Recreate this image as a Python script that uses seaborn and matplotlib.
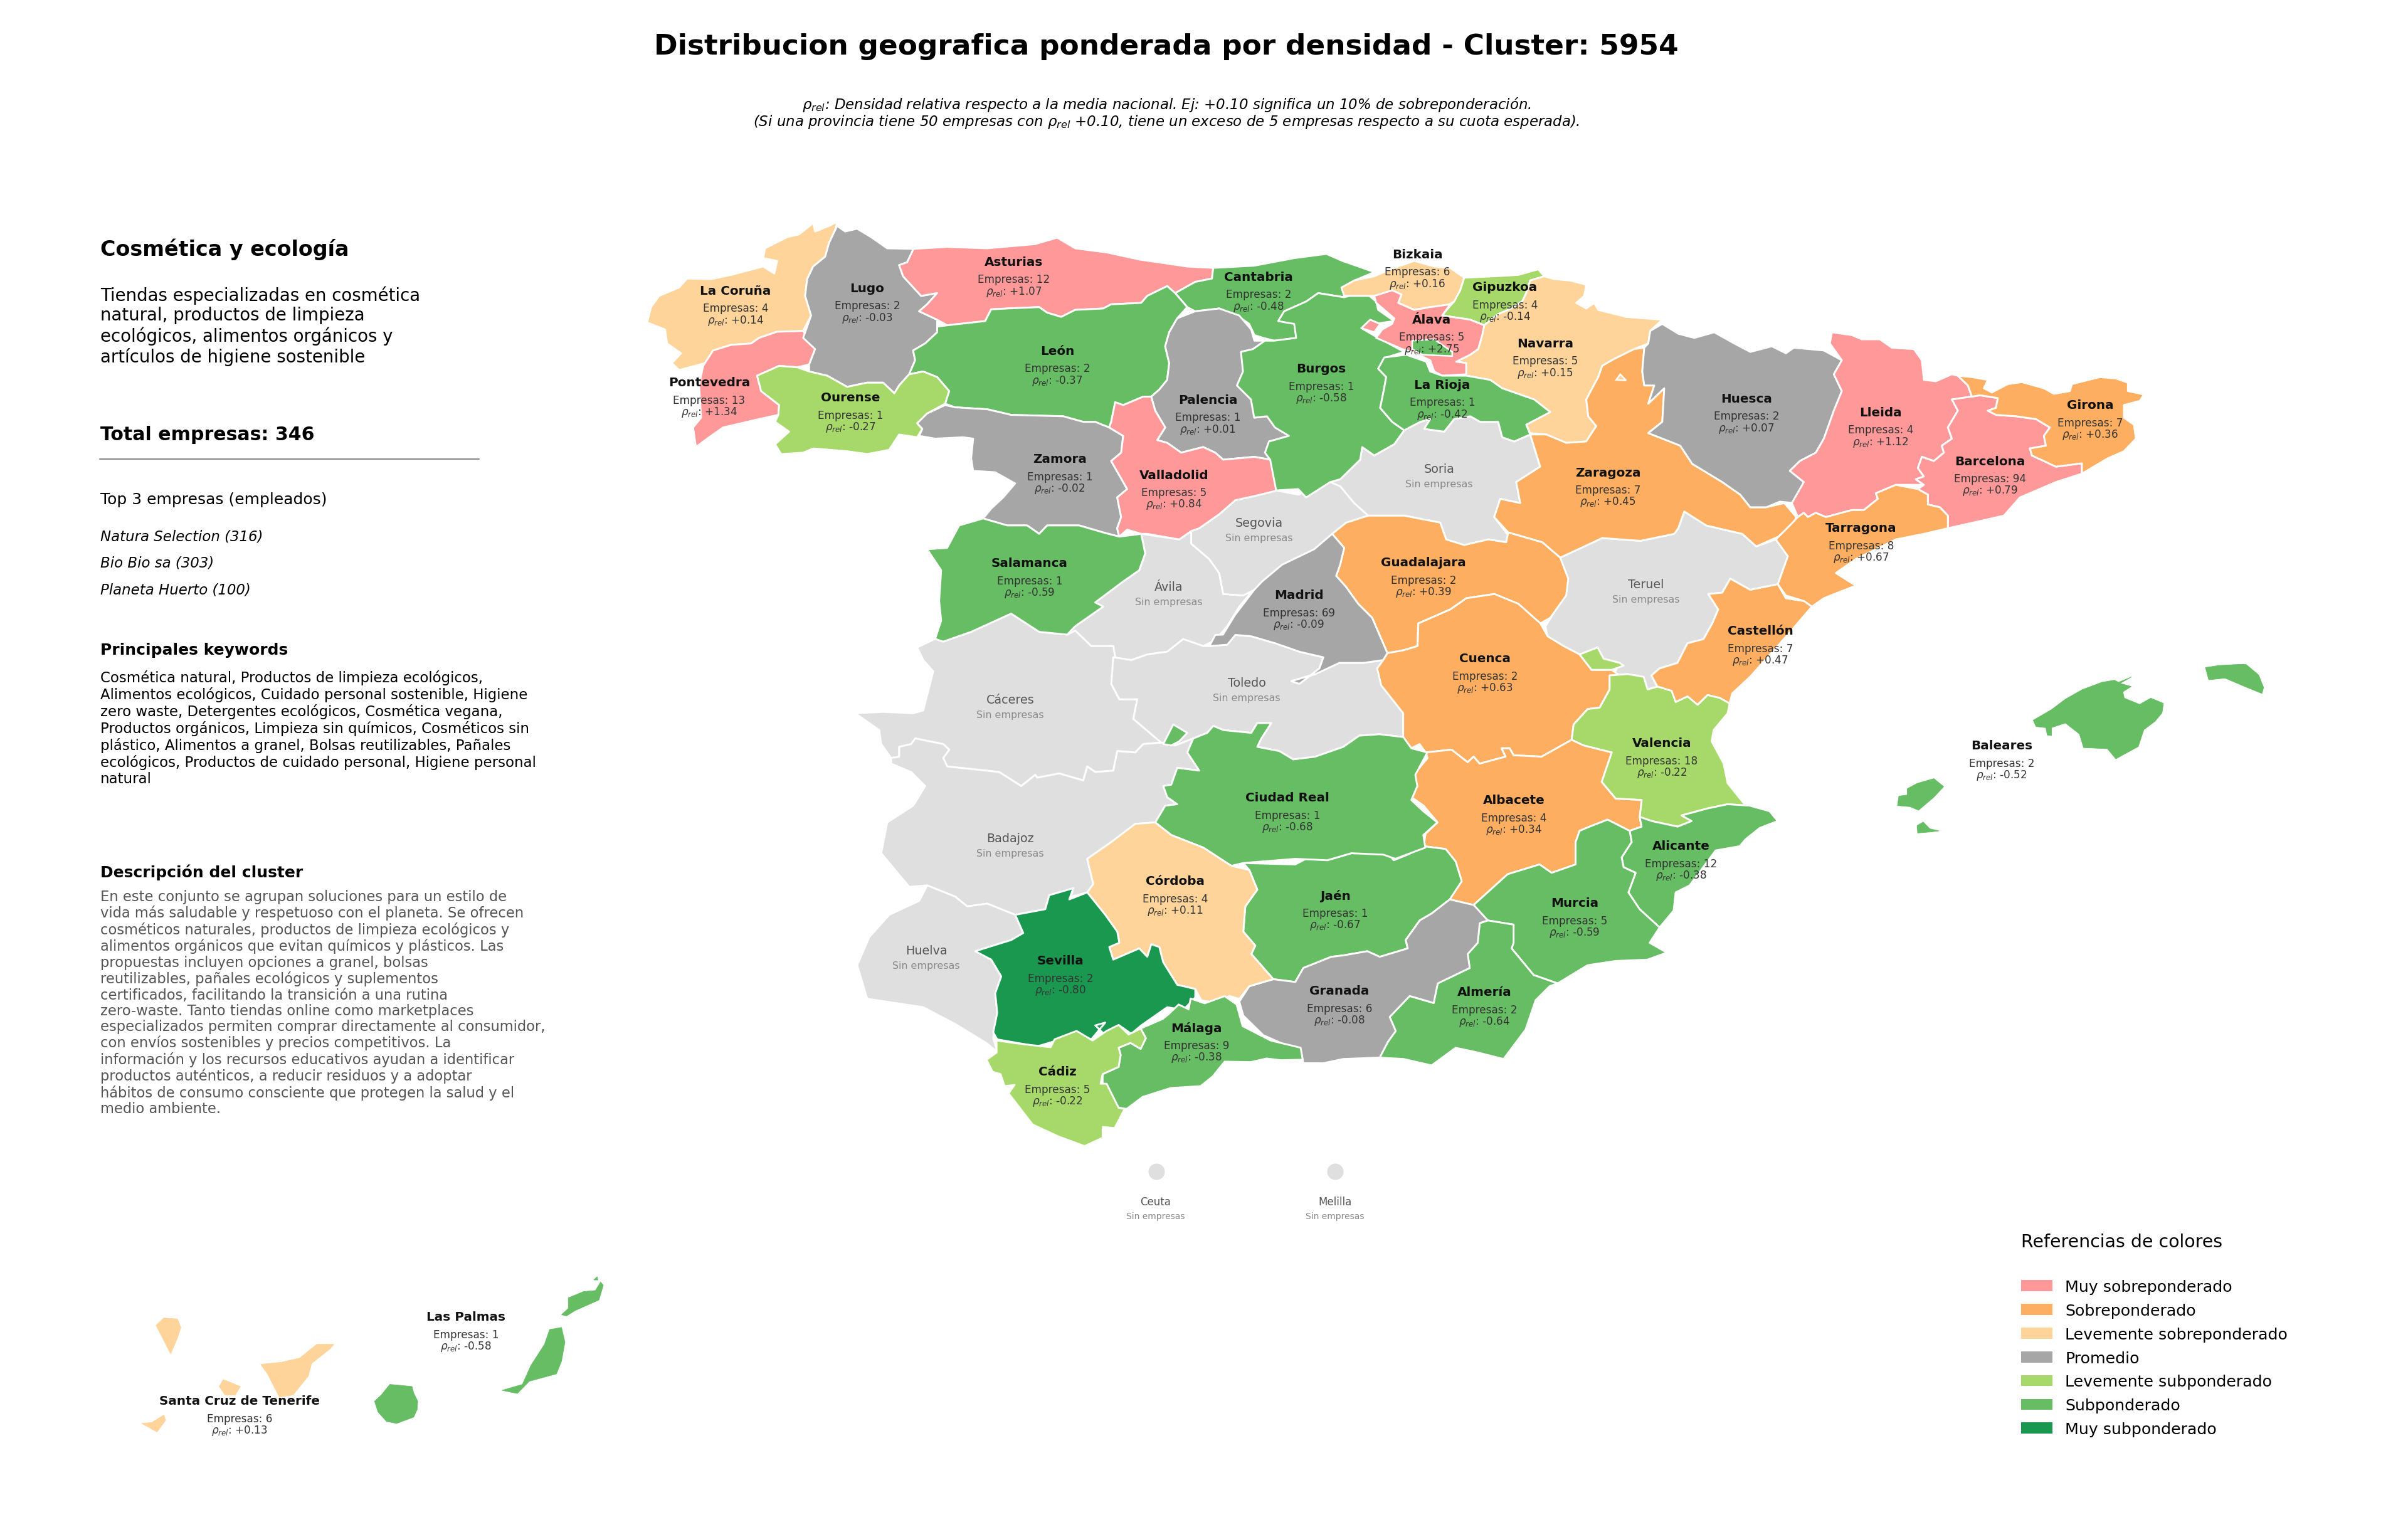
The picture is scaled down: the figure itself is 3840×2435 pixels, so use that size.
import matplotlib
matplotlib.use("Agg")
import matplotlib.pyplot as plt
from matplotlib.patches import Patch
import numpy as np
import pandas as pd
import seaborn as sns

# ---------------- values ----------------
PROVINCES = ["La Coruña","Lugo","Asturias","Cantabria","Bizkaia","Gipuzkoa","Álava","Navarra","León","Pontevedra","Ourense","Palencia","Burgos","La Rioja","Zamora","Valladolid","Salamanca","Zaragoza","Huesca","Lleida","Girona","Barcelona","Tarragona","Castellón","Guadalajara","Madrid","Cuenca","Valencia","Albacete","Alicante","Murcia","Almería","Granada","Jaén","Córdoba","Ciudad Real","Sevilla","Málaga","Cádiz","Baleares","Las Palmas","Santa Cruz de Tenerife"]
EMPRESAS = [4,2,12,2,6,4,5,5,2,13,1,1,1,1,1,5,1,7,2,4,7,94,8,7,2,69,2,18,4,12,5,2,6,1,4,1,2,9,5,2,1,6]
RHO = [0.14,-0.03,1.07,-0.48,0.16,-0.14,2.75,0.15,-0.37,1.34,-0.27,0.01,-0.58,-0.42,-0.02,0.84,-0.59,0.45,0.07,1.12,0.36,0.79,0.67,0.47,0.39,-0.09,0.63,-0.22,0.34,-0.38,-0.59,-0.64,-0.08,-0.67,0.11,-0.68,-0.80,-0.38,-0.22,-0.52,-0.58,0.13]
EMPTY_PROVINCES = ["Ávila","Segovia","Soria","Teruel","Cáceres","Toledo","Badajoz","Huelva"]
EMPTY_CITIES = ["Ceuta","Melilla"]

CATEGORIES = ["Muy sobreponderado","Sobreponderado","Levemente sobreponderado","Promedio","Levemente subponderado","Subponderado","Muy subponderado"]
CAT_COLORS = ["#FF9999","#FDAE61","#FED49A","#A6A6A6","#A6D96A","#66BD63","#1A9850"]
NO_DATA = "#DFDFDF"

TITLE = "Distribucion geografica ponderada por densidad - Cluster: 5954"
NOTE_1 = r"$\rho_{rel}$: Densidad relativa respecto a la media nacional. Ej: +0.10 significa un 10% de sobreponderación."
NOTE_2 = r"(Si una provincia tiene 50 empresas con $\rho_{rel}$ +0.10, tiene un exceso de 5 empresas respecto a su cuota esperada)."
CLUSTER = "Cosmética y ecología"
SUMMARY = "Tiendas especializadas en cosmética\nnatural, productos de limpieza\necológicos, alimentos orgánicos y\nartículos de higiene sostenible"
TOTAL = 346
TOP3 = ["Natura Selection (316)","Bio Bio sa (303)","Planeta Huerto (100)"]
KEYWORDS = "Cosmética natural, Productos de limpieza ecológicos,\nAlimentos ecológicos, Cuidado personal sostenible, Higiene\nzero waste, Detergentes ecológicos, Cosmética vegana,\nProductos orgánicos, Limpieza sin químicos, Cosméticos sin\nplástico, Alimentos a granel, Bolsas reutilizables, Pañales\necológicos, Productos de cuidado personal, Higiene personal\nnatural"
DESCRIPTION = "En este conjunto se agrupan soluciones para un estilo de\nvida más saludable y respetuoso con el planeta. Se ofrecen\ncosméticos naturales, productos de limpieza ecológicos y\nalimentos orgánicos que evitan químicos y plásticos. Las\npropuestas incluyen opciones a granel, bolsas\nreutilizables, pañales ecológicos y suplementos\ncertificados, facilitando la transición a una rutina\nzero-waste. Tanto tiendas online como marketplaces\nespecializados permiten comprar directamente al consumidor,\ncon envíos sostenibles y precios competitivos. La\ninformación y los recursos educativos ayudan a identificar\nproductos auténticos, a reducir residuos y a adoptar\nhábitos de consumo consciente que protegen la salud y el\nmedio ambiente."

# ---------------- map geometry: outlines in local map frames ----------------
# frame name -> (x origin, y origin, x scale, y scale)
FRAMES = {"n":(1000,330,.638,.4464),"ne":(2000,330,.638,.4464),"e":(2800,330,.638,.4464),
          "s":(1300,1000,.638,.4464),"se":(2200,1000,.638,.4464),"sw":(1350,1400,.638,.3827),
          "bal":(2950,1000,.4464,.336),"can":(180,2000,.542,.3365)}

SHAPES = {
"Ávila":[("n",[(1285,1170),(1380,1190),(1410,1160),(1410,1205),(1455,1260),(1480,1310),(1490,1385),(1540,1390),(1568,1365),(1530,1430),(1500,1500),(1470,1550),(1440,1571),(1390,1546),(1350,1591),(1300,1601),(1260,1621),(1215,1611),(1215,1571),(1160,1571),(1120,1516),(1100,1530),(1120,1500),(1150,1470),(1190,1430),(1170,1415),(1240,1340),(1280,1300),(1295,1240)])],
"Segovia":[("n",[(1410,1160),(1430,1150),(1480,1100),(1520,1050),(1568,1035),(1623,1015),(1678,1030),(1758,980),(1783,1000),(1818,1060),(1853,1105),(1798,1130),(1763,1170),(1718,1225),(1638,1280),(1588,1340),(1568,1370),(1540,1390),(1490,1385),(1480,1310),(1455,1260),(1410,1205)])],
"Soria":[("ne",[(375,800),(415,770),(440,760),(425,795),(475,805),(500,760),(540,750),(565,770),(610,770),(620,825),(650,840),(690,815),(715,930),(655,985),(665,1060),(615,1045),(600,1110),(635,1175),(630,1200),(585,1190),(525,1210),(480,1190),(465,1130),(375,1105),(285,1105),(250,1060),(215,1000),(190,985),(215,975),(265,905),(270,860),(300,890),(350,850)])],
"Teruel":[("ne",[(765,1255),(810,1225),(870,1185),(965,1195),(1050,1170),(1060,1150),(1075,1090),(1130,1140),(1220,1170),(1255,1215),(1304,1190),(1334,1250),(1324,1290),(1309,1350),(1240,1370),(1190,1330),(1170,1380),(1135,1385),(1160,1440),(1145,1490),(1123,1546),(1083,1561),(1058,1631),(1013,1651),(993,1676),(1008,1716),(983,1726),(973,1681),(933,1671),(898,1676),(913,1631),(873,1616),(858,1576),(813,1601),(773,1571),(733,1536),(728,1501),(780,1380),(760,1310)])],
"Cáceres":[("s",[(255,75),(300,44),(320,54),(390,19),(490,-46),(560,19),(630,29),(650,15),(690,70),(745,70),(750,110),(740,205),(760,260),(805,260),(795,330),(865,415),(820,420),(800,450),(755,445),(745,515),(700,520),(680,500),(670,550),(610,525),(555,540),(550,530),(515,570),(460,520),(395,510),(330,500),(320,470),(335,440),(320,420),(250,400),(240,420),(210,430),(210,465),(190,470),(165,420),(160,370),(100,310),(170,305),(245,310),(270,300),(295,160),(270,120)])],
"Toledo":[("s",[(745,110),(790,120),(830,100),(880,90),(920,45),(970,70),(985,70),(1030,65),(1050,30),(1090,35),(1150,60),(1210,90),(1270,110),(1260,150),(1210,205),(1190,195),(1250,170),(1310,130),(1370,130),(1420,120),(1405,150),(1415,210),(1470,310),(1470,395),(1410,385),(1360,390),(1320,430),(1250,465),(1195,475),(1160,445),(1105,430),(1115,400),(1140,345),(1105,345),(1090,380),(1020,370),(995,355),(980,380),(945,400),(900,425),(865,415),(795,330),(805,260),(760,260),(740,205)])],
"Badajoz":[("s",[(190,470),(210,465),(210,430),(240,420),(250,400),(320,420),(335,440),(320,470),(330,500),(395,510),(460,520),(515,570),(550,530),(555,540),(610,525),(670,550),(680,500),(700,520),(745,515),(755,445),(800,450),(820,420),(865,415),(900,425),(945,400),(930,450),(960,515),(905,505),(890,565),(870,570),(880,610),(905,635),(875,640),(850,700),(800,705),(740,770),(680,830),(695,920),(680,950),(640,965),(645,935),(585,960),(575,1010),(500,1030),(430,990),(380,1000),(350,965),(280,925),(235,930),(165,810),(180,700),(245,640),(275,570),(240,520),(190,490)])],
"Huelva":[("s",[(280,925),(350,965),(380,1000),(430,990),(500,1030),(520,1095),(490,1120),(400,1160),(440,1190),(465,1250),(450,1310),(455,1380),(445,1470),(455,1520),(430,1490),(350,1420),(270,1360),(130,1330),(105,1210),(135,1110),(185,1030),(260,980)])],
"La Coruña":[("n",[(525,55),(520,85),(505,130),(495,180),(465,215),(450,260),(445,320),(460,390),(440,445),(400,450),(375,448),(330,470),(310,490),(260,495),(215,515),(195,560),(130,585),(112,560),(135,525),(100,490),(95,440),(50,415),(60,360),(80,320),(130,290),(150,258),(210,260),(260,245),(300,230),(340,215),(368,240),(375,195),(340,185),(345,150),(400,110),(430,100),(465,60),(470,90),(505,70)])],
"Pontevedra":[("n",[(440,445),(470,510),(455,565),(425,575),(380,570),(325,605),(335,660),(380,710),(378,745),(330,760),(240,790),(205,825),(172,860),(165,790),(185,755),(180,640),(190,570),(215,515),(260,495),(310,490),(330,470),(375,448)])],
"Lugo":[("n",[(525,70),(545,90),(575,80),(610,110),(650,150),(716,152),(700,200),(680,210),(690,250),(735,320),(775,310),(750,350),(730,375),(775,405),(775,450),(745,490),(715,515),(720,550),(705,600),(680,640),(668,668),(640,630),(600,630),(550,645),(500,605),(455,590),(455,565),(470,510),(440,470),(460,390),(445,320),(450,260),(465,215),(495,180),(505,130),(520,85)])],
"Asturias":[("n",[(716,152),(800,145),(900,150),(1020,135),(1075,112),(1120,150),(1200,165),(1280,190),(1400,215),(1465,220),(1462,258),(1420,270),(1370,310),(1350,285),(1300,320),(1285,345),(1210,350),(1190,365),(1120,370),(1085,395),(1050,380),(1030,360),(950,365),(910,368),(895,410),(800,425),(775,405),(730,375),(750,350),(775,310),(735,320),(690,250),(680,210),(700,200)])],
"Cantabria":[("n",[(1465,220),(1568,212),(1668,185),(1748,170),(1788,195),(1868,235),(1818,265),(1788,290),(1793,325),(1728,310),(1698,340),(1643,375),(1628,410),(1668,415),(1673,470),(1618,480),(1590,470),(1568,460),(1555,420),(1530,395),(1480,365),(1420,375),(1400,360),(1370,310),(1420,270),(1462,258)])],
"León":[("n",[(895,410),(910,368),(950,365),(1030,360),(1050,380),(1085,395),(1120,370),(1190,365),(1210,350),(1285,345),(1300,320),(1350,285),(1370,310),(1400,360),(1375,400),(1355,450),(1345,500),(1355,560),(1350,620),(1330,655),(1310,680),(1290,680),(1240,710),(1220,700),(1210,770),(1205,790),(1170,770),(1140,770),(1090,750),(960,745),(900,725),(820,718),(795,705),(805,660),(775,610),(740,590),(705,600),(720,550),(715,515),(745,490),(775,450),(775,430),(800,425)])],
"Ourense":[("n",[(325,605),(380,570),(425,575),(455,590),(500,605),(550,645),(600,630),(640,630),(668,668),(680,640),(705,600),(740,590),(775,610),(805,660),(795,705),(750,740),(725,775),(738,795),(725,825),(680,815),(655,870),(600,885),(550,875),(465,865),(440,880),(385,885),(370,850),(405,805),(370,770),(378,745),(380,710),(335,660)])],
"Zamora":[("n",[(795,710),(820,718),(900,725),(960,745),(1090,750),(1140,770),(1170,770),(1205,790),(1240,820),(1235,880),(1210,910),(1250,1010),(1225,1040),(1235,1110),(1225,1150),(1230,1180),(1190,1165),(1130,1140),(1050,1140),(1030,1170),(1000,1140),(950,1140),(890,1115),(910,1080),(940,1040),(970,990),(920,950),(865,945),(860,900),(865,830),(840,825),(770,830),(730,820),(738,795),(725,775),(750,740)])],
"Palencia":[("n",[(1420,375),(1480,365),(1530,390),(1560,440),(1568,480),(1595,480),(1565,510),(1535,520),(1540,590),(1525,640),(1560,690),(1568,755),(1600,750),(1620,790),(1655,820),(1605,840),(1595,880),(1608,905),(1568,895),(1490,905),(1470,880),(1440,860),(1385,880),(1350,845),(1325,835),(1345,790),(1320,730),(1310,680),(1330,655),(1350,620),(1355,560),(1345,500),(1355,450),(1375,400)])],
"Valladolid":[("n",[(1310,680),(1320,730),(1345,790),(1325,835),(1350,845),(1385,880),(1440,860),(1470,880),(1490,905),(1568,895),(1608,905),(1625,1015),(1568,1035),(1520,1050),(1480,1100),(1430,1150),(1410,1160),(1380,1190),(1300,1170),(1285,1170),(1250,1155),(1230,1180),(1225,1150),(1235,1110),(1225,1040),(1250,1010),(1210,910),(1235,880),(1240,820),(1205,790),(1210,770),(1220,700),(1240,710),(1290,680)])],
"Salamanca":[("n",[(890,1115),(950,1140),(1000,1140),(1030,1170),(1050,1140),(1130,1140),(1190,1165),(1230,1180),(1285,1170),(1295,1240),(1280,1300),(1240,1340),(1170,1415),(1190,1430),(1150,1470),(1120,1500),(1100,1530),(1030,1520),(960,1455),(860,1520),(790,1555),(770,1545),(785,1480),(780,1410),(785,1300),(750,1225),(800,1220),(830,1140)])],
"Burgos":[("ne",[(225,325),(275,305),(305,340),(310,370),(350,410),(300,420),(268,435),(310,470),(375,520),(330,540),(310,580),(330,610),(325,650),(315,720),(345,770),(375,800),(350,850),(300,890),(270,860),(265,905),(215,975),(190,985),(130,1040),(110,1010),(55,1015),(40,905),(27,880),(37,840),(87,820),(52,790),(32,750),(0,755),(-8,690),(-43,640),(-28,590),(-33,520),(-3,510),(27,480),(50,480),(105,470),(100,420),(60,410),(75,375),(130,340),(160,310)])],
"Bizkaia":[("ne",[(218,290),(250,265),(300,250),(340,225),(400,195),(450,215),(490,220),(525,255),(515,300),(500,340),(470,365),(440,360),(400,370),(360,345),(368,315),(345,300),(310,320),(300,320),(225,320)])],
"Gipuzkoa":[("ne",[(525,255),(600,250),(660,245),(710,225),(725,250),(690,265),(680,310),(670,340),(635,370),(610,385),(575,425),(540,405),(470,390),(490,355),(500,340),(515,300)])],
"Navarra":[("ne",[(725,250),(750,260),(790,265),(830,280),(825,320),(805,345),(830,365),(850,345),(860,370),(930,395),(1020,405),(990,445),(985,490),(950,510),(900,545),(870,570),(860,610),(830,690),(835,750),(855,785),(830,840),(780,845),(730,815),(690,810),(680,780),(720,750),(740,735),(700,690),(620,650),(590,620),(530,605),(530,560),(505,555),(540,530),(560,510),(570,460),(575,425),(610,385),(635,370),(670,340),(680,310),(690,265)])],
"Álava":[("ne",[(300,320),(345,300),(368,315),(360,345),(400,370),(440,360),(490,350),(470,390),(540,405),(575,425),(570,460),(560,510),(540,530),(505,555),(530,560),(530,600),(470,605),(450,590),(440,550),(395,520),(370,510),(305,470),(320,440),(345,420),(350,400),(305,345)]),("ne",[(268,435),(290,405),(315,420),(300,450)])],
"La Rioja":[("ne",[(325,540),(380,530),(430,555),(440,590),(470,605),(530,605),(590,620),(620,650),(700,690),(740,735),(720,750),(680,780),(690,815),(650,840),(620,825),(610,770),(565,770),(540,750),(500,760),(475,805),(425,795),(440,760),(415,770),(375,800),(345,770),(315,720),(325,650),(330,610),(310,580)])],
"Zaragoza":[("ne",[(975,505),(970,590),(975,640),(1000,640),(985,705),(1025,650),(1020,770),(985,810),(1065,855),(1095,920),(1170,985),(1215,1030),(1240,1075),(1280,1075),(1325,1060),(1355,1110),(1350,1130),(1310,1180),(1255,1215),(1220,1170),(1130,1140),(1075,1090),(1060,1150),(1050,1170),(965,1195),(870,1185),(810,1225),(765,1255),(720,1200),(635,1165),(600,1110),(615,1045),(665,1060),(655,985),(715,930),(690,815),(730,815),(780,845),(830,840),(855,785),(835,750),(830,690),(860,610),(870,570),(900,545),(950,510)])],
"Huesca":[("ne",[(1020,420),(1060,455),(1100,470),(1150,450),(1200,490),(1240,520),(1254,515),(1294,500),(1329,525),(1349,505),(1424,515),(1469,550),(1449,600),(1469,660),(1449,730),(1424,830),(1404,880),(1364,910),(1339,945),(1374,985),(1349,1060),(1314,1055),(1280,1075),(1240,1075),(1215,1030),(1170,985),(1095,920),(1065,855),(985,810),(1020,770),(1025,650),(985,705),(1000,640),(975,640),(970,590),(975,505),(985,490),(990,445)])],
"Lleida":[("e",[(190,450),(240,460),(265,475),(310,475),(340,505),(395,510),(415,550),(420,620),(450,625),(490,600),(505,605),(530,640),(540,680),(490,690),(505,730),(480,790),(490,830),(465,855),(470,880),(445,910),(415,895),(405,935),(420,965),(400,975),(420,995),(350,995),(300,1025),(305,1045),(270,1085),(240,1085),(175,1110),(150,1095),(130,1110),(120,1095),(105,1110),(90,1060),(120,985),(85,945),(110,910),(150,880),(170,830),(195,730),(215,660),(195,600),(215,550),(185,490)])],
"Barcelona":[("e",[(490,690),(560,675),(605,685),(600,720),(580,730),(600,745),(650,750),(700,760),(735,790),(720,820),(725,855),(685,865),(690,890),(750,930),(815,918),(815,955),(750,985),(660,1040),(620,1105),(480,1150),(480,1105),(460,1075),(430,1065),(430,1030),(405,1010),(420,995),(400,975),(420,965),(405,935),(415,895),(445,910),(470,880),(465,855),(490,830),(480,790),(505,730)])],
"Girona":[("e",[(505,605),(540,610),(580,620),(570,650),(590,665),(630,635),(665,628),(720,650),(745,670),(785,660),(790,635),(860,610),(900,615),(930,630),(930,660),(970,672),(960,695),(920,710),(920,755),(945,780),(950,830),(920,875),(880,900),(815,955),(815,918),(750,930),(690,890),(685,865),(725,855),(720,820),(735,790),(700,760),(650,750),(600,745),(580,730),(600,720),(605,685),(560,675),(540,680),(530,640)])],
"Tarragona":[("e",[(105,1110),(120,1095),(130,1110),(150,1095),(175,1110),(240,1085),(270,1085),(305,1045),(300,1025),(350,995),(405,1010),(430,1030),(430,1065),(460,1075),(480,1105),(480,1150),(420,1170),(350,1190),(250,1260),(200,1310),(250,1355),(205,1380),(170,1400),(140,1430),(120,1410),(75,1390),(55,1350),(70,1290),(80,1250),(50,1190),(85,1140)])],
"Castellón":[("ne",[(1190,1330),(1240,1370),(1309,1350),(1329,1400),(1374,1410),(1394,1430),(1340,1520),(1290,1600),(1240,1680),(1195,1740),(1188,1776),(1163,1756),(1133,1746),(1108,1781),(1083,1751),(1053,1771),(1043,1731),(1008,1716),(993,1676),(1013,1651),(1058,1631),(1083,1561),(1123,1546),(1145,1490),(1160,1440),(1135,1385),(1170,1380)])],
"Guadalajara":[("ne",[(195,1170),(230,1130),(285,1105),(375,1105),(465,1130),(480,1190),(525,1210),(585,1190),(630,1200),(635,1165),(720,1200),(765,1255),(785,1330),(780,1390),(740,1470),(715,1490),(660,1420),(600,1385),(530,1400),(490,1440),(410,1490),(408,1571),(373,1586),(333,1596),(313,1530),(295,1470),(260,1420),(230,1360),(205,1320),(215,1280),(225,1220)])],
"Madrid":[("ne",[(195,1170),(225,1220),(215,1280),(205,1320),(230,1360),(260,1420),(295,1470),(313,1530),(333,1596),(323,1621),(273,1631),(213,1631),(153,1671),(93,1696),(113,1706),(163,1651),(173,1611),(113,1591),(53,1561),(-7,1536),(-47,1531),(-67,1566),(-112,1571),(-97,1531),(-78,1530),(-48,1460),(0,1370),(20,1340),(70,1280),(150,1225)])],
"Cuenca":[("se",[(97,-11),(177,-61),(217,-101),(287,-116),(347,-81),(402,-11),(420,35),(460,70),(500,100),(530,155),(580,155),(600,175),(575,175),(575,225),(550,290),(520,295),(485,350),(480,405),(405,465),(335,460),(325,435),(305,435),(315,465),(250,490),(235,465),(220,485),(180,440),(115,450),(100,420),(79,435),(59,395),(59,310),(4,210),(-6,150),(9,120),(20,95),(60,85),(95,70)])],
"Valencia":[("se",[(575,175),(620,170),(660,180),(670,225),(695,215),(730,230),(740,270),(770,250),(795,280),(820,245),(850,255),(875,275),(870,310),(835,370),(830,410),(860,490),(870,560),(915,640),(870,635),(820,650),(755,675),(780,695),(745,715),(680,695),(650,680),(655,620),(590,615),(555,555),(580,450),(510,425),(480,405),(485,350),(520,295),(550,290),(575,225)]),("se",[(500,100),(545,75),(560,115),(600,130),(610,140),(580,155),(530,155)])],
"Albacete":[("se",[(115,450),(180,440),(220,485),(235,465),(250,490),(315,465),(305,435),(325,435),(335,460),(405,465),(480,405),(510,425),(580,450),(555,555),(590,615),(655,620),(650,680),(655,715),(625,730),(570,690),(525,715),(500,730),(490,770),(490,850),(430,880),(400,850),(320,885),(235,995),(175,975),(205,910),(190,840),(165,795),(110,785),(115,740),(145,700),(110,640),(75,605),(95,570),(85,530),(120,470)])],
"Alicante":[("se",[(650,680),(680,695),(745,715),(780,695),(755,675),(820,650),(870,635),(925,640),(975,660),(995,695),(950,720),(915,760),(900,785),(840,800),(775,925),(740,950),(735,1015),(700,1075),(650,1010),(622,950),(640,880),(610,860),(605,825),(630,770),(625,730),(655,715)])],
"Murcia":[("se",[(235,995),(320,885),(400,850),(430,880),(490,850),(490,770),(500,730),(525,715),(570,690),(625,730),(630,770),(605,825),(610,860),(640,880),(622,950),(650,1010),(700,1075),(675,1130),(718,1165),(670,1190),(590,1195),(520,1210),(445,1275),(385,1245),(330,1150),(335,1065),(270,1050)])],
"Almería":[("se",[(270,1050),(335,1065),(335,1130),(330,1150),(385,1245),(445,1275),(425,1285),(390,1335),(365,1440),(310,1545),(240,1520),(190,1505),(130,1568),(60,1545),(0,1540),(20,1485),(40,1445),(25,1395),(75,1320),(135,1345),(145,1275),(225,1220),(220,1170),(245,1130),(250,1060)])],
"Jaén":[("s",[(1070,845),(1200,850),(1240,820),(1280,835),(1340,810),(1411,810),(1426,800),(1446,835),(1481,815),(1521,785),(1576,795),(1601,840),(1616,910),(1586,975),(1541,1025),(1511,1050),(1476,1120),(1481,1150),(1446,1165),(1411,1180),(1380,1160),(1320,1175),(1290,1180),(1220,1220),(1200,1270),(1145,1260),(1090,1170),(1100,1140),(1070,1090),(1075,1000),(1105,940),(1085,870)])],
"Granada":[("s",[(1145,1260),(1200,1270),(1220,1220),(1290,1180),(1320,1175),(1380,1160),(1411,1180),(1446,1165),(1481,1150),(1476,1120),(1511,1050),(1541,1025),(1586,975),(1646,995),(1681,1050),(1661,1060),(1656,1130),(1631,1170),(1636,1220),(1556,1275),(1546,1345),(1486,1320),(1436,1395),(1451,1445),(1431,1485),(1411,1540),(1320,1545),(1270,1560),(1220,1560),(1215,1520),(1120,1460),(1070,1390),(1060,1340),(1085,1285)])],
"Ciudad Real":[("s",[(945,400),(980,380),(995,355),(1020,370),(1090,380),(1105,345),(1140,345),(1115,400),(1105,430),(1160,445),(1195,475),(1250,465),(1320,430),(1360,390),(1410,385),(1470,395),(1490,435),(1530,450),(1500,530),(1505,570),(1490,620),(1520,660),(1555,700),(1520,745),(1525,790),(1450,830),(1420,815),(1340,810),(1280,835),(1200,830),(1070,845),(1040,855),(970,790),(890,745),(850,700),(875,640),(905,635),(880,610),(870,570),(890,565),(905,505),(960,515),(930,450)]),("s",[(895,350),(930,380),(910,410),(890,425),(870,420)])],
"Córdoba":[("s",[(800,705),(850,700),(890,745),(970,790),(1040,855),(1085,870),(1105,940),(1075,1000),(1070,1090),(1100,1140),(1090,1170),(1145,1260),(1085,1285),(1060,1330),(1035,1320),(1000,1345),(965,1335),(950,1295),(905,1280),(870,1200),(860,1145),(840,1135),(830,1180),(810,1150),(745,1190),(735,1145),(760,1130),(755,1090),(725,1030),(680,950),(695,920),(680,830),(740,770)])],
"Sevilla":[("s",[(500,1030),(575,1010),(585,960),(645,935),(635,975),(680,950),(725,1030),(755,1090),(760,1130),(735,1145),(745,1190),(810,1150),(830,1180),(840,1135),(860,1145),(870,1200),(905,1280),(950,1295),(950,1325),(920,1370),(880,1360),(815,1425),(790,1455),(760,1425),(725,1460),(700,1425),(725,1415),(690,1475),(650,1450),(625,1470),(555,1500),(455,1475),(445,1450),(455,1380),(450,1310),(465,1250),(440,1190),(400,1160),(490,1120),(520,1095)])],
"Málaga":[("sw",[(860,505),(895,525),(945,495),(975,530),(990,620),(1060,680),(1135,710),(1140,760),(1085,762),(1050,755),(1010,770),(945,768),(915,830),(885,870),(810,878),(740,915),(700,965),(680,960),(640,860),(640,820),(680,790),(685,740),(680,710),(710,690),(735,715),(748,670),(735,630),(790,590),(805,570),(830,530),(855,550)])],
"Cádiz":[("sw",[(375,680),(440,695),(510,708),(520,675),(575,640),(615,680),(650,640),(680,615),(705,655),(735,630),(748,670),(735,715),(710,690),(680,710),(685,740),(680,790),(640,820),(635,860),(650,860),(680,960),(695,965),(670,1045),(640,1040),(640,1085),(595,1120),(530,1080),(465,1030),(405,900),(420,865),(395,870),(385,820),(365,810),(350,760),(375,730)])],
"Baleares":[("bal",[(655,445),(720,395),(770,345),(830,300),(900,265),(945,255),(960,265),(1005,240),(965,270),(1005,285),(975,310),(980,340),(1035,370),(1075,340),(1120,365),(1115,410),(1090,450),(1050,490),(1030,570),(950,628),(920,580),(835,575),(820,510),(770,458),(720,480),(720,518),(705,515),(700,480),(665,475)]),
 ("bal",[(1270,195),(1320,185),(1390,180),(1415,180),(1460,230),(1478,290),(1472,318),(1420,290),(1340,245),(1282,253)]),
 ("bal",[(205,770),(240,745),(300,722),(335,760),(300,810),(245,872),(215,855),(170,850),(175,805),(205,800)]),
 ("bal",[(240,945),(262,928),(285,960),(318,970),(290,975),(242,980)])],
"Santa Cruz de Tenerife":[("can",[(150,305),(190,310),(200,350),(190,400),(170,475),(127,340)]),
 ("can",[(435,525),(495,515),(550,495),(600,430),(650,430),(640,450),(585,520),(575,580),(530,670),(490,680),(455,570)]),
 ("can",[(325,597),(375,630),(360,670),(330,670),(313,630)]),
 ("can",[(150,765),(155,790),(130,845),(85,805),(115,800)])],
"Las Palmas":[("can",[(815,620),(850,625),(880,630),(885,660),(897,700),(895,740),(885,775),(835,805),(805,795),(780,750),(770,700),(790,670)]),
 ("can",[(1285,360),(1320,350),(1330,420),(1320,510),(1305,570),(1225,605),(1190,663),(1145,648),(1205,620),(1230,530),(1270,430)]),
 ("can",[(1435,135),(1443,150),(1430,220),(1360,270),(1335,295),(1320,290),(1340,260),(1340,210),(1385,180),(1420,175)]),
 ("can",[(1415,125),(1425,110),(1427,125)])],
}
# small pieces drawn over their neighbours: (province whose colour they take, frame, outline)
ENCLAVES = [("Burgos","ne",[(395,480),(450,475),(495,520),(495,535),(420,530),(395,510)]),
            ("Navarra","ne",[(905,620),(930,622),(915,600)])]

# label positions on the canvas
LABEL_POS = {"La Coruña":(1173,464),"Lugo":(1383,460),"Asturias":(1617,418),"León":(1686,560),"Pontevedra":(1131,611),"Ourense":(1356,635),"Palencia":(1926,638),"Zamora":(1690,733),"Valladolid":(1872,758),"Salamanca":(1642,899),"Ávila":(1864,937),"Segovia":(2008,835),"Cantabria":(2007,442),"Bizkaia":(2260,406),"Gipuzkoa":(2400,459),"Álava":(2283,510),"Navarra":(2464,548),"Burgos":(2107,589),"La Rioja":(2300,614),"Soria":(2295,749),"Huesca":(2785,636),"Zaragoza":(2564,754),"Guadalajara":(2270,898),"Madrid":(2071,950),"Teruel":(2625,933),"Castellón":(2807,1007),"Lleida":(2999,658),"Girona":(3333,647),"Barcelona":(3173,736),"Tarragona":(2968,843),"Cáceres":(1611,1117),"Toledo":(1988,1090),"Ciudad Real":(2053,1273),"Badajoz":(1611,1338),"Córdoba":(1874,1406),"Jaén":(2129,1429),"Huelva":(1477,1517),"Sevilla":(1691,1533),"Granada":(2136,1581),"Málaga":(1908,1640),"Cuenca":(2368,1051),"Valencia":(2650,1186),"Albacete":(2414,1277),"Alicante":(2681,1350),"Murcia":(2511,1441),"Almería":(2367,1583),"Cádiz":(1686,1710),"Baleares":(3192,1190),"Las Palmas":(743,2101),"Santa Cruz de Tenerife":(382,2235),"Ceuta":(1843,1917),"Melilla":(2129,1917)}
CITY_DOTS = pd.DataFrame({"x":[1844,2129],"y":[1869,1869],"city":EMPTY_CITIES})

# ---------------- drawing ----------------
sns.set_theme(style="white")
plt.rcParams["font.family"] = "DejaVu Sans"
plt.rcParams["mathtext.fontset"] = "dejavusans"
DPI = 300
fig = plt.figure(figsize=(3840/DPI, 2436/DPI), dpi=DPI, facecolor="white")
ax = fig.add_axes([0, 0, 1, 1])
ax.set_xlim(0, 3840); ax.set_ylim(2436, 0); ax.axis("off")

def canvas(frame, pts):
    x0, y0, sx, sy = FRAMES[frame]
    a = np.array(pts, float)
    return x0 + a[:, 0]*sx, y0 + a[:, 1]*sy

def category(r):
    return np.digitize([-r], [-0.7, -0.3, -0.1, 0.1, 0.3, 0.7])[0]

COLOR_OF = {p: CAT_COLORS[category(r)] for p, r in zip(PROVINCES, RHO)}
for p in EMPTY_PROVINCES:
    COLOR_OF[p] = NO_DATA

for name, parts in SHAPES.items():
    for frame, pts in parts:
        xs, ys = canvas(frame, pts)
        island = frame in ("bal", "can")
        ax.fill(xs, ys, facecolor=COLOR_OF[name], edgecolor=COLOR_OF[name] if island else "white",
                linewidth=0.2 if island else 0.7, joinstyle="round", zorder=2)
for name, frame, pts in ENCLAVES:
    xs, ys = canvas(frame, pts)
    ax.fill(xs, ys, facecolor=COLOR_OF[name], edgecolor="white", linewidth=0.6, zorder=3)

sns.scatterplot(data=CITY_DOTS, x="x", y="y", s=39, color=NO_DATA, linewidth=0, ax=ax, legend=False, zorder=2)
ax.set_xlim(0, 3840); ax.set_ylim(2436, 0); ax.axis("off")

for p, n, r in zip(PROVINCES, EMPRESAS, RHO):
    x, y = LABEL_POS[p]
    ax.text(x, y, p, ha="center", va="center", fontsize=4.8, fontweight="bold", color="#111111", zorder=5)
    ax.text(x, y+28, f"Empresas: {n}", ha="center", va="center", fontsize=4.05, color="#333333", zorder=5)
    ax.text(x, y+47, rf"$\rho_{{rel}}$: {r:+.2f}", ha="center", va="center", fontsize=4.05, color="#333333", zorder=5)
for p in EMPTY_PROVINCES:
    x, y = LABEL_POS[p]
    ax.text(x, y, p, ha="center", va="center", fontsize=4.6, color="#555555", zorder=5)
    ax.text(x, y+24, "Sin empresas", ha="center", va="center", fontsize=3.8, color="#888888", zorder=5)
for p in EMPTY_CITIES:
    x, y = LABEL_POS[p]
    ax.text(x, y, p, ha="center", va="center", fontsize=4.0, color="#555555", zorder=5)
    ax.text(x, y+23, "Sin empresas", ha="center", va="center", fontsize=3.35, color="#888888", zorder=5)

ax.text(1860, 74, TITLE, ha="center", va="center", fontsize=10.9, fontweight="bold", color="black")
ax.text(1860, 167, NOTE_1, ha="center", va="center", fontsize=5.5, style="italic", color="black")
ax.text(1860, 195, NOTE_2, ha="center", va="center", fontsize=5.5, style="italic", color="black")

LX = 160
ax.text(LX, 398, CLUSTER, va="center", fontsize=8, fontweight="bold", color="black")
ax.text(LX, 456, SUMMARY, va="top", fontsize=6.65, linespacing=1.17, color="black")
ax.text(LX, 693, f"Total empresas: {TOTAL}", va="center", fontsize=7.2, fontweight="bold", color="black")
ax.plot([159, 764], [733, 733], color="#888888", linewidth=0.5)
ax.text(LX, 797, "Top 3 empresas (empleados)", va="center", fontsize=6, color="black")
for yy, t in zip([856, 898, 941], TOP3):
    ax.text(LX, yy, t, va="center", fontsize=5.5, style="italic", color="black")
ax.text(LX, 1037, "Principales keywords", va="center", fontsize=6, fontweight="bold", color="black")
ax.text(LX, 1069, KEYWORDS, va="top", fontsize=5.5, linespacing=1.16, color="black")
ax.text(LX, 1391, "Descripción del cluster", va="center", fontsize=6, fontweight="bold", color="black")
ax.text(LX, 1419, DESCRIPTION, va="top", fontsize=5.45, linespacing=1.13, color="#555555")

handles = [Patch(facecolor=c, edgecolor="none", label=l) for c, l in zip(CAT_COLORS, CATEGORIES)]
leg = ax.legend(handles=handles, title="Referencias de colores\n", fontsize=6.05, title_fontsize=6.8, frameon=False,
                labelspacing=0.55, loc="upper left", bbox_to_anchor=(3200/3840, 1-1944/2436), labelcolor="black")
leg._legend_box.align = "left"
leg.get_title().set_color("black")

fig.savefig("out.png", dpi=DPI, facecolor="white")
